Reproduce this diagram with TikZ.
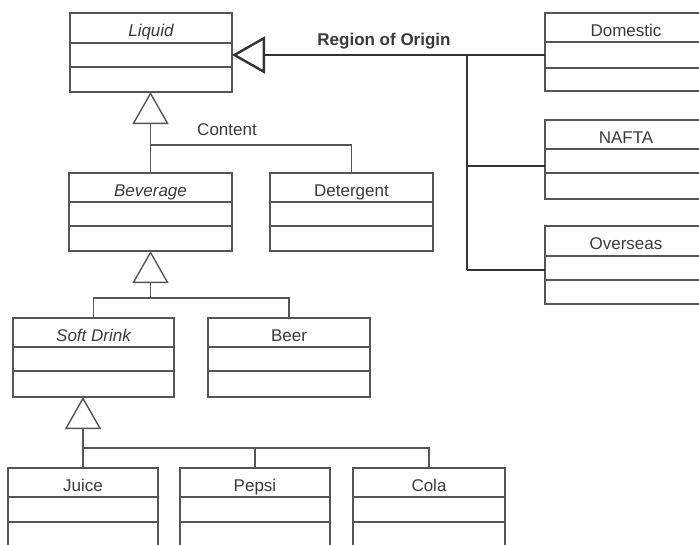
\documentclass[tikz,border=0pt]{standalone}
\usepackage{fontspec}
\setmainfont{Liberation Sans}
\usetikzlibrary{arrows.meta}
\definecolor{linec}{HTML}{555555}
\definecolor{regc}{HTML}{333333}
\definecolor{txtc}{HTML}{3A3A3A}
\newcommand\umlcls[8]{%
  \node[clsbox, minimum width={(#4)-(#2)}, minimum height={(#5)-(#3)}] (#1) at ({(#2+#4)/2},{(#3+#5)/2}) {};
  \draw[clsline] (#2,#6) -- (#4,#6) (#2,#7) -- (#4,#7);
  \node[clstext] (#1-t) at ({(#2+#4)/2},{(#3+#6)/2+4}) {#8};
}
\begin{document}
\begin{tikzpicture}[x=1pt,y=-1pt,
  clsbox/.style={draw=linec, line width=1.4pt, inner sep=0pt, outer sep=0pt, rectangle},
  clsline/.style={draw=linec, line width=1.4pt},
  clstext/.style={text=txtc, font=\fontsize{17}{20}\selectfont, inner sep=0pt, text height=12.5pt, text depth=3.5pt},
  gen/.style={draw=linec, line width=1.4pt},
  genarrow/.style={gen, -{Triangle[open, length=32pt, width=36pt]}},
  reg/.style={draw=regc, line width=2.4pt},
  regarrow/.style={reg, -{Triangle[open, length=33pt, width=37pt]}},
  lbl/.style={text=txtc, font=\fontsize{17}{20}\selectfont, inner sep=0pt, text height=12.5pt, text depth=3.5pt}
]
\path[use as bounding box] (0,0) rectangle (699,544);
\clip (0,0) rectangle (699,544);

\umlcls{liquid}{70}{13}{232}{92}{43}{67}{\itshape Liquid}
\umlcls{bev}{69}{173}{232}{251}{202}{226}{\itshape Beverage}
\umlcls{det}{270}{173}{433}{251}{202}{226}{Detergent}
\umlcls{sd}{13}{318}{174}{397}{347}{371}{\itshape Soft Drink}
\umlcls{beer}{208}{318}{370}{397}{347}{371}{Beer}
\umlcls{juice}{8}{468}{158}{547}{497}{522}{Juice}
\umlcls{pepsi}{180}{468}{330}{547}{497}{522}{Pepsi}
\umlcls{cola}{353}{468}{505}{547}{497}{522}{Cola}
\umlcls{dom}{545}{13}{707}{91}{42}{68}{Domestic}
\umlcls{naf}{545}{120}{707}{199}{149}{173}{NAFTA}
\umlcls{ovs}{545}{226}{707}{304}{256}{280}{Overseas}

% Liquid generalization
\draw[genarrow] (bev.north) -- (bev.north |- liquid.south);
\path (bev.north) ++(0,-28) coordinate (c1);
\draw[gen] (c1) -| (det.north);
\node[lbl] (content) at (227,131) {Content};

% Beverage generalization
\path (bev.south) ++(0,47) coordinate (c2);
\draw[genarrow] (c2) -- (bev.south);
\draw[gen] (sd.north) |- (c2) -| (beer.north);

% Soft drink generalization
\draw[genarrow] (juice.north) -- (juice.north |- sd.south);
\path (juice.north) ++(0,-20) coordinate (c3);
\draw[gen] (c3) -| (pepsi.north);
\draw[gen] (c3) -| (cola.north);

% Region of origin
\path (dom.west) ++(-78,3) coordinate (r0);
\path (naf.west) ++(-78,6.5) coordinate (r1);
\path (ovs.west) ++(-78,5) coordinate (r2);
\draw[regarrow] (dom.west |- r0) -- (liquid.east |- r0);
\draw[reg] (r0) -- (r2);
\draw[reg] (r1) -- (naf.west |- r1);
\draw[reg] (r2) -- (ovs.west |- r2);
\node[lbl, font=\fontsize{17}{20}\selectfont\bfseries] (region) at (384,41) {Region of Origin};
\end{tikzpicture}
\end{document}
